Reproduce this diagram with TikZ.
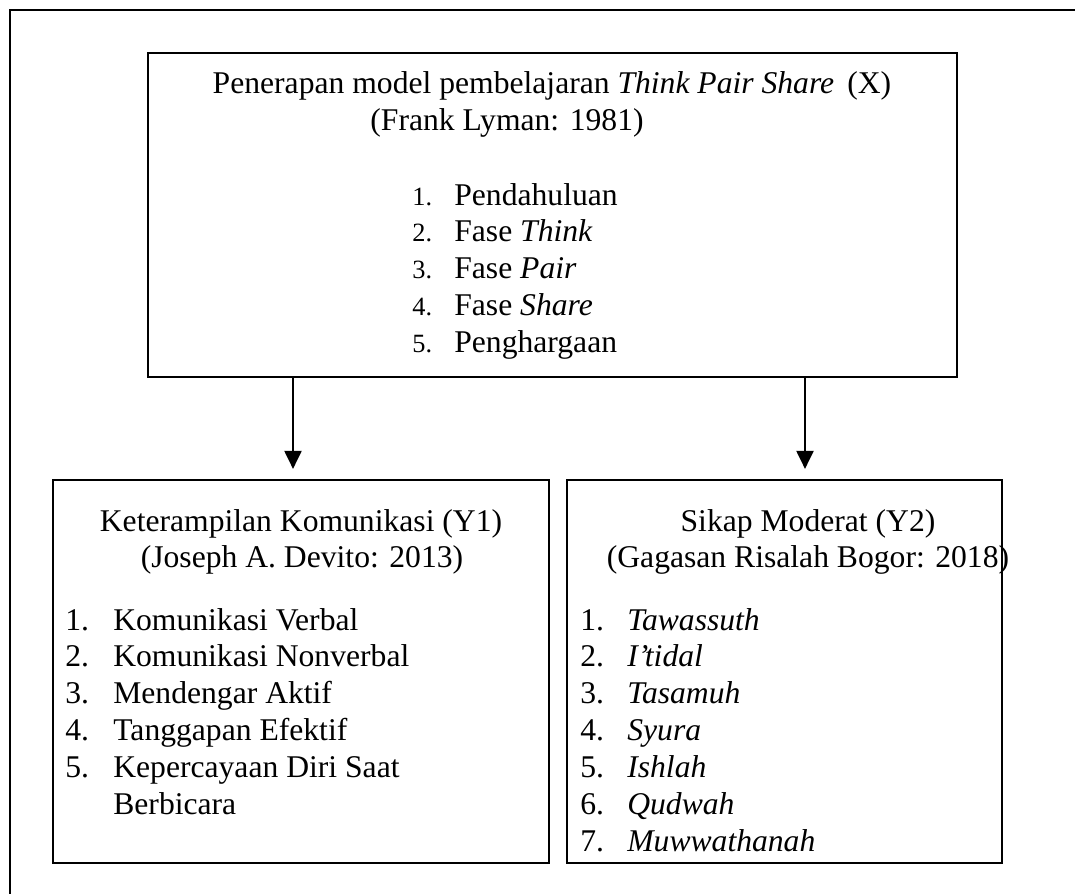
\documentclass[tikz,border=0pt]{standalone}
\usepackage{fontspec}
\setmainfont{Liberation Serif}
\usetikzlibrary{positioning,arrows.meta}

\newcommand{\besar}{\fontsize{18}{21}\selectfont}
\newcommand{\kecil}{\fontsize{15}{21}\selectfont}

\begin{document}
\begin{tikzpicture}[x=0.02cm, y=-0.02cm,
    kotak/.style={draw, line width=1.3pt, inner sep=0pt},
    teks/.style={inner sep=0pt, font=\besar},
    panah/.style={-{Triangle[length=0.36cm,width=0.34cm]}, line width=1.2pt}]
\useasboundingbox (0,0) rectangle (1075,893);
\clip (0,0) rectangle (1075,893);
% bingkai luar
\draw[line width=1.6pt] (10,10) rectangle (1100,920);

% kotak variabel
\node[kotak, minimum width=16.18cm, minimum height=6.48cm] (X) at (552.5,215) {};
\node[kotak, minimum width=9.92cm, minimum height=7.66cm] (Y1) at (301,671.5) {};
\node[kotak, minimum width=8.7cm, minimum height=7.66cm] (Y2) at (784.5,671.5) {};

% isi X
\node[teks, anchor=base] (judulX) at (552,93) {Penerapan model pembelajaran \textit{Think Pair Share}\ \,(X)};
\node[teks, anchor=base] (sumberX) at (507,130) {(Frank Lyman: 1981)};
\node[teks, anchor=base west] (listX) at (412,205) {\begin{tabular}[t]{@{}p{0.84cm}@{}l@{}}
  {\kecil 1.} & Pendahuluan\\
  {\kecil 2.} & Fase \textit{Think}\\
  {\kecil 3.} & Fase \textit{Pair}\\
  {\kecil 4.} & Fase \textit{Share}\\
  {\kecil 5.} & Penghargaan
\end{tabular}};

% isi Y1
\node[teks, anchor=base] (judulY1) at (301,531) {Keterampilan Komunikasi (Y1)};
\node[teks, anchor=base] (sumberY1) at (302,567) {(Joseph A. Devito: 2013)};
\node[teks, anchor=base west] (listY1) at (65,630) {\begin{tabular}[t]{@{}p{0.96cm}@{}l@{}}
  1. & Komunikasi Verbal\\
  2. & Komunikasi Nonverbal\\
  3. & Mendengar Aktif\\
  4. & Tanggapan Efektif\\
  5. & Kepercayaan Diri Saat\\
     & Berbicara
\end{tabular}};

% isi Y2
\node[teks, anchor=base] (judulY2) at (808,531) {Sikap Moderat (Y2)};
\node[teks, anchor=base] (sumberY2) at (808,567) {(Gagasan Risalah Bogor: 2018)};
\node[teks, anchor=base west] (listY2) at (580,630) {\begin{tabular}[t]{@{}p{0.94cm}@{}l@{}}
  1. & \textit{Tawassuth}\\
  2. & \textit{I’tidal}\\
  3. & \textit{Tasamuh}\\
  4. & \textit{Syura}\\
  5. & \textit{Ishlah}\\
  6. & \textit{Qudwah}\\
  7. & \textit{Muwwathanah}
\end{tabular}};

% panah
\draw[panah] ([xshift=-0.16cm]Y1.north |- X.south) -- ([xshift=-0.16cm, yshift=0.2cm]Y1.north);
\draw[panah] ([xshift=0.41cm]Y2.north |- X.south) -- ([xshift=0.41cm, yshift=0.2cm]Y2.north);
\end{tikzpicture}
\end{document}
